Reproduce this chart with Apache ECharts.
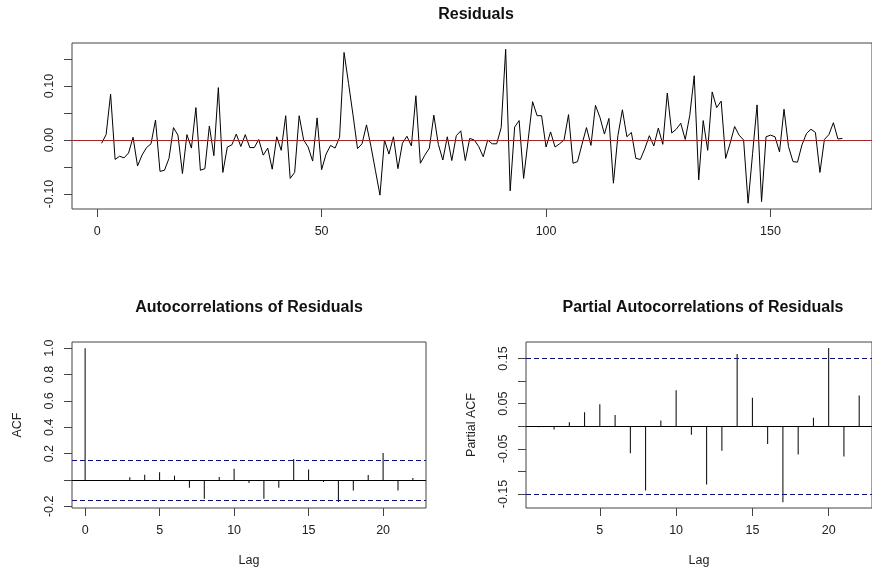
<!DOCTYPE html>
<html>
<head>
<meta charset="utf-8">
<script src="https://cdn.jsdelivr.net/npm/echarts@6/dist/echarts.min.js"></script>
<style>
html,body{margin:0;padding:0;background:#fff;}
#c{width:872px;height:571px;}
</style>
</head>
<body>
<div id="c"></div>
<script>
// Residual series (index 1..166)
var residuals = [
 -0.006, 0.010, 0.085,-0.036,-0.030,-0.033,-0.024, 0.005,-0.048,-0.028,
 -0.014,-0.007, 0.037,-0.058,-0.056,-0.034, 0.023, 0.009,-0.062, 0.010,
 -0.015, 0.060,-0.056,-0.053, 0.026,-0.029, 0.097,-0.060,-0.013,-0.009,
  0.011,-0.012, 0.010,-0.014,-0.014, 0.001,-0.028,-0.015,-0.054, 0.006,
 -0.019, 0.045,-0.071,-0.060, 0.045, 0.000,-0.013,-0.039, 0.041,-0.055,
 -0.026,-0.010,-0.015, 0.005, 0.162, 0.105, 0.046,-0.016,-0.007, 0.028,
 -0.012,-0.057,-0.102, 0.000,-0.026, 0.006,-0.053,-0.006, 0.007,-0.011,
  0.082,-0.043,-0.028,-0.015, 0.046,-0.008,-0.037, 0.006,-0.038, 0.008,
  0.017,-0.038, 0.003, 0.000,-0.012,-0.031, 0.000,-0.007,-0.007, 0.023,
  0.168,-0.094, 0.024, 0.036,-0.071, 0.000, 0.071, 0.045, 0.045,-0.013,
  0.015,-0.013,-0.007, 0.000, 0.047,-0.043,-0.040,-0.008, 0.023,-0.010,
  0.064, 0.042, 0.011, 0.040,-0.080, 0.008, 0.056, 0.006, 0.014,-0.034,
 -0.036,-0.016, 0.008,-0.011, 0.022,-0.008, 0.087, 0.013, 0.020, 0.031,
  0.001, 0.045, 0.119,-0.074, 0.036,-0.019, 0.089, 0.060, 0.072,-0.034,
 -0.006, 0.025, 0.009, 0.000,-0.117,-0.025, 0.065,-0.114, 0.006, 0.009,
  0.006,-0.022, 0.057,-0.012,-0.040,-0.041,-0.009, 0.012, 0.020, 0.014,
 -0.060, 0.001, 0.010, 0.032, 0.002, 0.003
];
// ACF, lags 0..22
var acfValues = [1.0, 0.0, 0.0, 0.020, 0.040, 0.058, 0.033, -0.058, -0.142, 0.023, 0.086,
 -0.023, -0.142, -0.058, 0.160, 0.079, -0.015, -0.167, -0.079, 0.038, 0.205, -0.079, 0.015];
// PACF, lags 1..22
var pacfValues = [-0.002, -0.007, 0.009, 0.031, 0.049, 0.025, -0.060, -0.142, 0.0125, 0.080,
 -0.019, -0.129, -0.054, 0.160, 0.063, -0.039, -0.168, -0.0625, 0.019, 0.1735, -0.067, 0.068];
var ciBound = 0.1521;

var resXTicks = [0, 50, 100, 150];
var resYTicks = [-0.10, -0.05, 0.00, 0.05, 0.10, 0.15];
var resYLabels = [-0.10, 0.00, 0.10];
var acfXTicks = [0, 5, 10, 15, 20];
var acfYTicks = [-0.2, 0.0, 0.2, 0.4, 0.6, 0.8, 1.0];
var acfYLabels = [-0.2, 0.2, 0.4, 0.6, 0.8, 1.0];
var pacfXTicks = [5, 10, 15, 20];
var pacfYTicks = [-0.15, -0.10, -0.05, 0.00, 0.05, 0.10, 0.15];
var pacfYLabels = [-0.15, -0.05, 0.05, 0.15];

var FONT = '"Liberation Sans", Arial, sans-serif';
var AX = '#444';
var TXT = '#222';

function xAx(idx, min, max, ticks, name) {
  return {
    type: 'value', gridIndex: idx, min: min, max: max, position: 'bottom',
    axisLine: {show: false, onZero: false},
    splitLine: {show: false},
    axisTick: {show: true, inside: false, length: 8, lineStyle: {color: AX, width: 1}, customValues: ticks},
    axisLabel: {show: true, customValues: ticks, margin: 16, color: TXT, fontFamily: FONT, fontSize: 12.5,
      formatter: function (v) { return String(Math.round(v)); }},
    name: name || '', nameLocation: 'middle', nameGap: 46,
    nameTextStyle: {color: TXT, fontFamily: FONT, fontSize: 12.5}
  };
}
function yAx(idx, min, max, ticks, labels, dec, name, nameGap) {
  return {
    type: 'value', gridIndex: idx, min: min, max: max, position: 'left',
    axisLine: {show: false, onZero: false},
    splitLine: {show: false},
    axisTick: {show: true, inside: false, length: 8, lineStyle: {color: AX, width: 1}, customValues: ticks},
    axisLabel: {show: true, customValues: labels, rotate: 90, margin: 16, color: TXT, fontFamily: FONT, fontSize: 12.5,
      formatter: function (v) { return v.toFixed(dec); }},
    name: name || '', nameLocation: 'middle', nameGap: nameGap || 0, nameRotate: 90,
    nameTextStyle: {color: TXT, fontFamily: FONT, fontSize: 12.5}
  };
}

var gridStyle = {show: true, borderColor: AX, borderWidth: 1, backgroundColor: 'transparent', containLabel: false};

var option = {
  animation: false,
  backgroundColor: '#fff',
  grid: [
    Object.assign({left: 72, top: 43, width: 807, height: 166}, gridStyle),
    Object.assign({left: 72, top: 342, width: 354, height: 166}, gridStyle),
    Object.assign({left: 526, top: 342, width: 353, height: 166}, gridStyle)
  ],
  xAxis: [
    xAx(0, -5.6, 172.6, resXTicks),
    xAx(1, -0.88, 22.88, acfXTicks, 'Lag'),
    xAx(2, 0.16, 22.84, pacfXTicks, 'Lag')
  ],
  yAxis: [
    yAx(0, -0.1277, 0.1796, resYTicks, resYLabels, 2),
    yAx(1, -0.2125, 1.0466, acfYTicks, acfYLabels, 1, 'ACF', 48),
    yAx(2, -0.181, 0.1866, pacfYTicks, pacfYLabels, 2, 'Partial ACF', 48)
  ],
  graphic: [
    {type: 'text', x: 476, y: 15, style: {text: 'Residuals', font: 'bold 16px ' + FONT, fill: '#111', textAlign: 'center', textVerticalAlign: 'middle'}},
    {type: 'text', x: 249, y: 308, style: {text: 'Autocorrelations of Residuals', font: 'bold 16px ' + FONT, fill: '#111', textAlign: 'center', textVerticalAlign: 'middle'}},
    {type: 'text', x: 703, y: 308, style: {text: 'Partial Autocorrelations of Residuals', font: 'bold 16px ' + FONT, fill: '#111', textAlign: 'center', textVerticalAlign: 'middle'}}
  ],
  series: [
    {
      type: 'line', xAxisIndex: 0, yAxisIndex: 0,
      data: residuals.map(function (v, i) { return [i + 1, v]; }),
      showSymbol: false, symbol: 'none',
      lineStyle: {color: '#000', width: 1},
      silent: true,
      markLine: {
        silent: true, symbol: ['none', 'none'], label: {show: false},
        lineStyle: {color: '#ff0000', width: 1, type: 'solid'},
        data: [{yAxis: 0}]
      }
    },
    {
      type: 'bar', xAxisIndex: 1, yAxisIndex: 1,
      data: acfValues.map(function (v, i) { return [i, v]; }),
      barWidth: 1, itemStyle: {color: '#000'}, silent: true,
      markLine: {
        silent: true, symbol: ['none', 'none'], label: {show: false},
        data: [
          {yAxis: 0, lineStyle: {color: '#000', width: 1, type: 'solid'}},
          {yAxis: ciBound, lineStyle: {color: '#0000ff', width: 1, type: [5, 3]}},
          {yAxis: -ciBound, lineStyle: {color: '#0000ff', width: 1, type: [5, 3]}}
        ]
      }
    },
    {
      type: 'bar', xAxisIndex: 2, yAxisIndex: 2,
      data: pacfValues.map(function (v, i) { return [i + 1, v]; }),
      barWidth: 1, itemStyle: {color: '#000'}, silent: true,
      markLine: {
        silent: true, symbol: ['none', 'none'], label: {show: false},
        data: [
          {yAxis: 0, lineStyle: {color: '#000', width: 1, type: 'solid'}},
          {yAxis: ciBound, lineStyle: {color: '#0000ff', width: 1, type: [5, 3]}},
          {yAxis: -ciBound, lineStyle: {color: '#0000ff', width: 1, type: [5, 3]}}
        ]
      }
    }
  ]
};
var chart = echarts.init(document.getElementById('c'), null, {renderer: 'canvas'});
chart.setOption(option);
</script>
</body>
</html>
